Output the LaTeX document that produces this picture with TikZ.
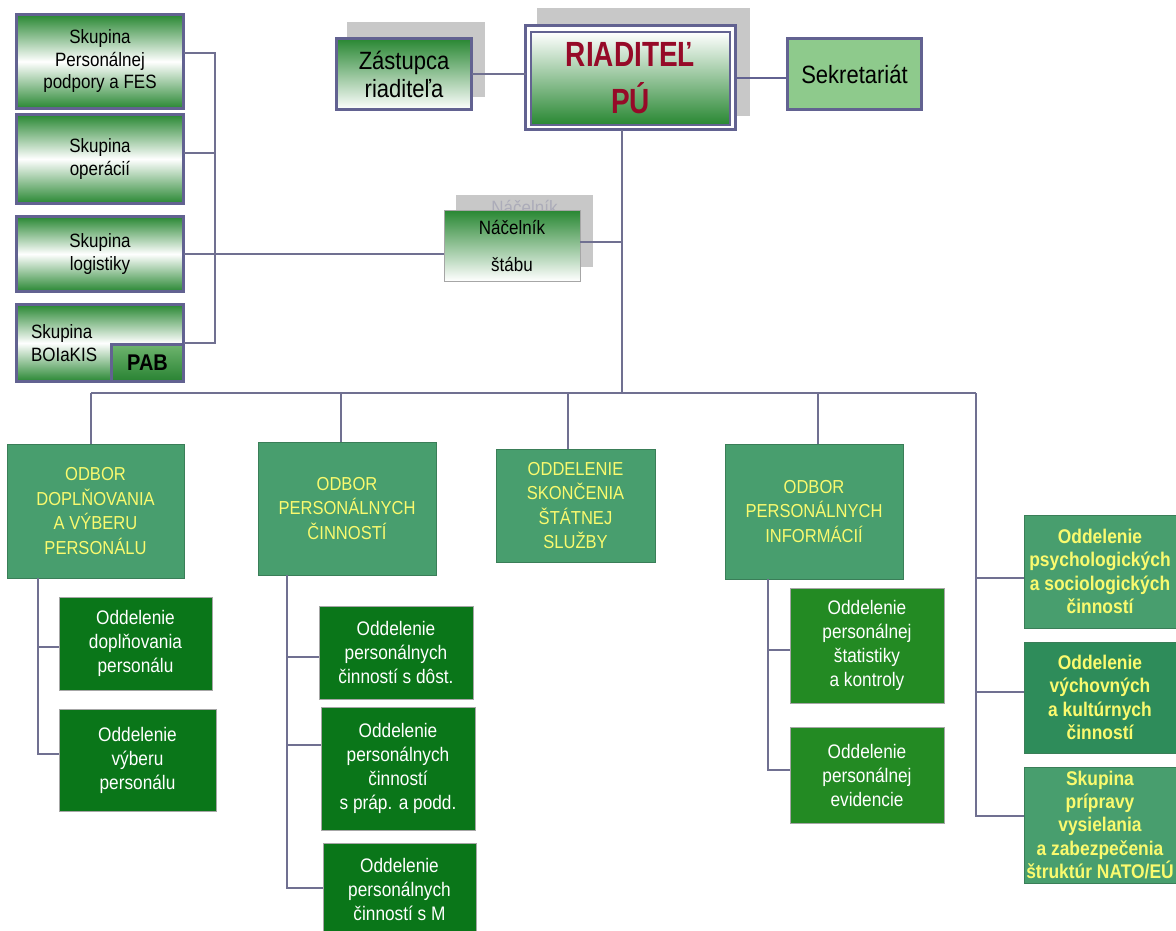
\documentclass[tikz,border=0pt]{standalone}
\usepackage{fontspec}
\setmainfont{Liberation Sans}[FakeStretch=0.88]
\newfontfamily\cond{Liberation Sans}[FakeStretch=0.8]
\definecolor{bord}{RGB}{98,98,145}
\definecolor{lnc}{RGB}{112,112,145}
\definecolor{gr}{RGB}{40,135,50}
\definecolor{midg}{RGB}{72,158,110}
\definecolor{midg2}{RGB}{46,140,90}
\definecolor{dkg}{RGB}{10,118,25}
\definecolor{dkg2}{RGB}{35,138,35}
\definecolor{yel}{RGB}{250,250,110}
\definecolor{shd}{RGB}{200,200,200}
\definecolor{ghost}{RGB}{172,172,185}
\definecolor{sek}{RGB}{142,202,140}
\definecolor{rd}{RGB}{150,10,40}
\definecolor{pabl}{RGB}{110,180,110}
\definecolor{pabd}{RGB}{40,130,50}
\begin{document}
\begin{tikzpicture}[x=1pt,y=-1pt,
  box/.style={rectangle, inner sep=0pt, outer sep=0pt, align=center},
  lgrp/.style={box, draw=bord, line width=3pt, top color=gr, bottom color=gr, middle color=white,
    minimum width=167pt, font=\fontsize{19.3}{22.5}\selectfont},
  shadowbox/.style={box, fill=shd},
  tbox/.style={box, draw=bord, line width=3pt},
  ltwo/.style={box, fill=midg, draw=midg!80!black, line width=0.7pt, text=yel,
    font=\fontsize{18.8}{24.5}\selectfont},
  lthree/.style={box, fill=dkg, draw=gray!70, line width=0.7pt, text=white,
    font=\fontsize{19.6}{24}\selectfont},
  rbox/.style={box, fill=midg, draw=midg!80!black, line width=0.7pt, text=yel,
    minimum width=152pt, font=\bfseries\fontsize{19.8}{23.2}\selectfont},
  ln/.style={draw=lnc, line width=1.2pt}
]
\useasboundingbox (0,0) rectangle (1176,930);
\fill[white] (0,0) rectangle (1176,930);

% ---------- left groups ----------
\node[lgrp, minimum height=94pt] (L1) at (100,61.5) {Skupina\\Personálnej\\podpory a FES};
\node[lgrp, minimum height=89pt] (L2) at (100,159) {Skupina\\operácií};
\node[lgrp, minimum height=75pt] (L3) at (100,254) {Skupina\\logistiky};
\node[lgrp, minimum height=77pt] (L4) at (100,343) {};
\node[box, anchor=west, align=left, font=\fontsize{19.3}{23}\selectfont] (L4t) at (31,343) {Skupina\\BOIaKIS};
\node[box, draw=bord, line width=3pt, top color=pabl, bottom color=pabd, minimum width=72pt,
  minimum height=37pt, font=\bfseries\fontsize{22.7}{26}\selectfont] (PAB) at (147.5,363) {PAB};

% ---------- top ----------
\node[shadowbox, minimum width=138pt, minimum height=75pt] (Zsh) at (416,59.5) {};
\node[tbox, top color=gr, bottom color=white, minimum width=135pt, minimum height=71pt,
  font=\fontsize{25}{28}\selectfont] (Zas) at (404,74) {Zástupca\\riaditeľa};

\node[shadowbox, minimum width=213pt, minimum height=108pt] (Dsh) at (643.5,62) {};
\node[tbox, fill=white, minimum width=210pt, minimum height=104pt] (Dir) at (630.5,77.5) {};
\node[box, draw=bord, line width=1.5pt, top color=white, bottom color=gr, minimum width=199pt,
  minimum height=93pt, text=rd, font=\cond\bfseries\fontsize{35}{47}\selectfont] (DirIn) at (630.5,78.5) {RIADITEĽ\\PÚ};

\node[tbox, fill=sek, minimum width=134pt, minimum height=71pt,
  font=\fontsize{25}{28}\selectfont] (Sek) at (854.5,74) {Sekretariát};

\node[shadowbox, minimum width=137pt, minimum height=72pt] (Nsh) at (524.5,231) {};
\node[box, text=ghost, font=\fontsize{19.3}{22}\selectfont] (Nghost) at (524.5,207) {Náčelník};
\node[box, draw=gray!70, line width=0.8pt, top color=gr, bottom color=white, minimum width=136pt,
  minimum height=71pt, font=\fontsize{19.3}{37}\selectfont] (Nac) at (512,245.5) {Náčelník\\štábu};

% ---------- level 2 ----------
\node[ltwo, minimum width=177pt, minimum height=134pt] (A) at (95.5,511) {ODBOR\\DOPLŇOVANIA\\A VÝBERU\\PERSONÁLU};
\node[ltwo, minimum width=178pt, minimum height=133pt] (B) at (347,508.5) {ODBOR\\PERSONÁLNYCH\\ČINNOSTÍ};
\node[ltwo, minimum width=159pt, minimum height=113pt] (C) at (575.5,505.5) {ODDELENIE\\SKONČENIA\\ŠTÁTNEJ\\SLUŽBY};
\node[ltwo, minimum width=178pt, minimum height=135pt] (D) at (814,511.5) {ODBOR\\PERSONÁLNYCH\\INFORMÁCIÍ};

% ---------- right column ----------
\node[rbox, minimum height=113pt] (R1) at (1100,571.5) {Oddelenie\\psychologických\\a sociologických\\činností};
\node[rbox, fill=midg2, minimum height=111pt] (R2) at (1100,697.5) {Oddelenie\\výchovných\\a kultúrnych\\činností};
\node[rbox, minimum height=116pt] (R3) at (1100,825) {Skupina\\prípravy\\vysielania\\a zabezpečenia\\štruktúr NATO/EÚ};

% ---------- level 3 ----------
\node[lthree, minimum width=153pt, minimum height=93pt] (A1) at (135.5,643.5) {Oddelenie\\doplňovania\\personálu};
\node[lthree, minimum width=157pt, minimum height=102pt] (A2) at (137.5,760) {Oddelenie\\výberu\\personálu};
\node[lthree, minimum width=154pt, minimum height=93pt] (B1) at (396,652.5) {Oddelenie\\personálnych\\činností s dôst.};
\node[lthree, minimum width=154pt, minimum height=123pt] (B2) at (398,768.5) {Oddelenie\\personálnych\\činností\\s práp. a podd.};
\node[lthree, minimum width=153pt, minimum height=92pt] (B3) at (399.5,889) {Oddelenie\\personálnych\\činností s M};
\node[lthree, fill=dkg2, minimum width=154pt, minimum height=115pt] (D1) at (867,645.5) {Oddelenie\\personálnej\\štatistiky\\a kontroly};
\node[lthree, fill=dkg2, minimum width=154pt, minimum height=96pt] (D2) at (867,775) {Oddelenie\\personálnej\\evidencie};

% ---------- connectors ----------
\coordinate (lb) at (215,0);
\draw[ln] ([yshift=8.5pt]L1.east) -- ([yshift=8.5pt]L1.east -| lb) -- (L4.east -| lb) -- (L4.east);
\draw[ln] ([yshift=6pt]L2.east) -- ([yshift=6pt]L2.east -| lb);
\draw[ln] (L3.east) -- (L3.east -| Nac.west);

\draw[ln] (Zas.east) -- (Zas.east -| Dir.west);
\draw[draw=bord, line width=2pt] (Dir.east) -- (Dir.east -| Sek.west);

\coordinate (busC) at (622,393);
\draw[ln] (Dir.south -| busC) -- (busC);
\draw[ln] ([yshift=3.5pt]Nac.east) -- ([yshift=3.5pt]Nac.east -| busC);

\coordinate (bA) at (91,393);
\coordinate (bB) at (341,393);
\coordinate (bC) at (568,393);
\coordinate (bD) at (818,393);
\coordinate (bR) at (976,393);
\draw[ln] (bA) -- (bR);
\draw[ln] (bA) -- (bA |- A.north);
\draw[ln] (bB) -- (bB |- B.north);
\draw[ln] (bC) -- (bC |- C.north);
\draw[ln] (bD) -- (bD |- D.north);
\draw[ln] (bR) -- ([yshift=9pt]R3.west -| bR) -- ([yshift=9pt]R3.west);
\draw[ln] ([yshift=-6.5pt]R1.west -| bR) -- ([yshift=-6.5pt]R1.west);
\draw[ln] ([yshift=5.5pt]R2.west -| bR) -- ([yshift=5.5pt]R2.west);

\coordinate (vA) at (38,0);
\draw[ln] (A.south -| vA) -- ([yshift=6pt]A2.west -| vA) -- ([yshift=6pt]A2.west);
\draw[ln] ([yshift=-3.5pt]A1.west -| vA) -- ([yshift=-3.5pt]A1.west);

\coordinate (vB) at (287,0);
\draw[ln] (B.south -| vB) -- ([yshift=1pt]B3.west -| vB) -- ([yshift=1pt]B3.west);
\draw[ln] ([yshift=-4.5pt]B1.west -| vB) -- ([yshift=-4.5pt]B1.west);
\draw[ln] ([yshift=23.5pt]B2.west -| vB) -- ([yshift=23.5pt]B2.west);

\coordinate (vD) at (768,0);
\draw[ln] (D.south -| vD) -- ([yshift=5pt]D2.west -| vD) -- ([yshift=5pt]D2.west);
\draw[ln] ([yshift=-4.5pt]D1.west -| vD) -- ([yshift=-4.5pt]D1.west);
\end{tikzpicture}
\end{document}
